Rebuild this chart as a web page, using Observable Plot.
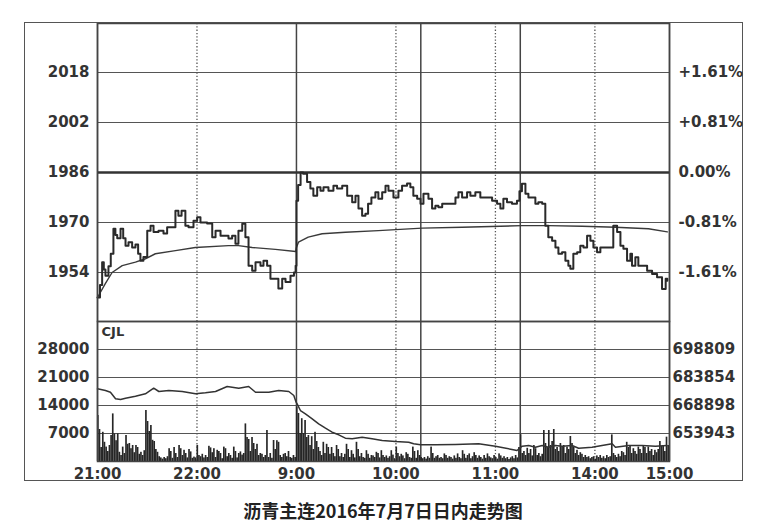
<!DOCTYPE html>
<html><head><meta charset="utf-8">
<script src="https://cdn.jsdelivr.net/npm/d3@7"></script>
<script src="https://cdn.jsdelivr.net/npm/@observablehq/plot@0.6"></script>
<style>
body{margin:0;background:#fff;width:758px;height:523px;overflow:hidden;position:relative;}
#frame{position:absolute;left:24px;top:22px;width:717px;height:457px;border:1.5px solid #555;}
#frame svg{display:block;}
#caption{position:absolute;left:0;top:499px;width:766px;text-align:center;font-family:"Noto Sans CJK SC",sans-serif;font-weight:bold;font-size:18px;color:#222;line-height:22px;}
</style></head>
<body>
<div id="frame"></div>
<div id="caption">沥青主连2016年7月7日日内走势图</div>
<script>
// ---- data (x = trading minutes since 21:00 open; sessions 21:00-23:00, 9:00-10:15, 10:30-11:30, 13:30-15:00) ----
const priceTicks = [1954, 1970, 1986, 2002, 2018];
const pctLabels = ["-1.61%", "-0.81%", "0.00%", "+0.81%", "+1.61%"];
const prevClose = 1986;
const volTicks = [7000, 14000, 21000, 28000];
const oiTicks = [653943, 668898, 683854, 698809];
const timeTicks = [0, 60, 120, 180, 240, 300, 345];
const timeLabels = ["21:00", "22:00", "9:00", "10:00", "11:00", "14:00", "15:00"];
const sessionBreaks = [0, 120, 195, 255, 345];
const hourMarks = [60, 180, 240, 300];

const price = [
[0,1946],[1.5,1950],[2.8,1957.3],[3.8,1955],[4.8,1953],[6.6,1956],[8,1960],[9.6,1968],[10.8,1966],[11.9,1965],[13.9,1968],[15.5,1965],[16.9,1962.6],[18.7,1963.7],[20.9,1962],[22.9,1963],[24.5,1960],[25.9,1957.8],[27.7,1959],[30,1967.4],[32,1969],[33.8,1967],[36.8,1967.4],[39.8,1966.5],[42,1968.5],[45,1968.5],[47,1973.8],[48.8,1972.2],[50.7,1973.8],[53,1969],[54.9,1968.5],[57.9,1970.6],[60.1,1971.7],[62.1,1970],[66.1,1969.7],[69.2,1965.3],[71.2,1967.4],[74.2,1965.8],[77.2,1965.8],[79,1964.9],[81.2,1965.8],[83.2,1963.2],[85,1967.4],[87.3,1969.6],[89.2,1965.3],[91.1,1956.2],[93.3,1954.6],[95.3,1957.3],[98.3,1956.2],[100.1,1957.8],[102.3,1956.2],[104.3,1952],[107.3,1952],[109.1,1948.9],[111.4,1952],[113.4,1951],[116.4,1953],[118.5,1954],[119.5,1956.2],
[120,1977],[121,1982],[122.5,1986],[124,1985.6],[126.4,1983],[128.4,1980.9],[130.2,1978.6],[132.5,1981.3],[134.5,1980.2],[136.3,1981.3],[139.3,1980.2],[142.3,1981.8],[144.5,1980.9],[147.6,1981.8],[150.6,1978.6],[153.6,1976.5],[155.6,1978.6],[157.4,1974.5],[159.6,1972.2],[161.6,1972.8],[163.2,1976],[165.2,1978],[167.6,1979.7],[169.4,1977.6],[171.7,1979.7],[173.7,1981.8],[175.5,1980.2],[178.5,1978],[181.5,1980.2],[183.7,1981.8],[186.7,1982.5],[188.7,1981.3],[190.5,1978.6],[192.8,1977.6],[194.8,1976],
[196.6,1979.2],[199.6,1977.6],[201.8,1974.5],[203.8,1975.4],[205.6,1974.9],[207.9,1976],[212.9,1976],[215.9,1978],[217.7,1979.7],[219.9,1978],[222.9,1979.7],[224.9,1978.6],[227.9,1979.7],[230.9,1978],[235,1978],[238,1977],[241,1976],[243,1974.5],[244.8,1977.6],[247,1976.5],[250,1976],[253,1977],[254.5,1980],
[256,1982.4],[258.1,1979.2],[259.9,1978],[262.1,1978],[264.1,1976],[265.9,1976.5],[268.2,1976],[270.1,1969],[271.9,1965.3],[274.2,1964.2],[276.2,1962],[278,1960],[280.2,1960.5],[282.2,1957.8],[284,1956.2],[285.2,1955.2],[287,1960],[289.3,1960.5],[291.2,1962.6],[293.1,1962],[295.3,1965.8],[297.3,1964.2],[299.1,1962],[301.3,1960.5],[303.3,1962],[310.4,1962],[311.1,1969],[313.4,1967],[315.4,1962.6],[317.2,1961.6],[319.4,1957.8],[321.4,1960],[322.4,1956.2],[324.4,1958.9],[326.2,1956.2],[329.2,1956.2],[331.5,1954.6],[334.5,1953.5],[337.5,1952.5],[340.5,1948.7],[342.7,1952],[343.7,1951.4]
];

const avgPrice = [
[0,1946],[4.8,1950.5],[8.8,1954],[14.9,1956.2],[22.9,1957.3],[28.9,1958.4],[34.9,1960],[47,1961],[59,1962],[79,1962.6],[85,1962.6],[93.3,1962],[107.3,1961.4],[119.5,1960.7],
[120,1962],[121.2,1963.7],[127.1,1965.3],[135.5,1966.4],[149.5,1966.9],[169.4,1967.4],[195.8,1968.2],[219.9,1968.5],[256,1969],[271.9,1969],[292.3,1968.8],[312.4,1968.5],[332.3,1968],[343.7,1967]
];

const volume = [
11500,8000,3500,7300,4800,3600,2500,4000,6500,11900,6900,5200,6900,2300,1500,3600,2000,6500,4300,4500,
3200,4000,2200,4000,3500,1800,2300,1500,2700,12750,10000,7500,9000,5300,5000,3000,2300,1200,900,600,
1000,700,1200,3200,2500,800,3500,2000,1000,4000,3200,1500,2800,2000,900,3000,2400,800,1100,900,
4000,1500,1200,1800,900,1500,1000,3800,3400,2200,3200,1000,2800,2500,2000,700,3600,3200,1200,2000,
1500,800,3600,2500,900,2000,2400,1600,2000,9400,6000,5500,2500,6000,4500,3000,4300,1500,2000,1800,
1000,1500,7750,1000,2000,800,5250,3000,5200,4800,1500,1000,1800,2000,1200,2500,1000,800,1500,1000,
13600,12000,7000,10700,7000,10250,6000,6500,4000,6200,3000,7300,5000,3500,2500,1500,4800,2000,4300,3500,
1800,3500,2000,1200,4000,3000,1200,2000,1000,1800,4300,3000,1000,2700,1800,900,4800,3000,1200,2000,
1000,800,2700,1800,800,1500,1400,1000,2300,2000,900,2700,1500,1000,1400,800,1200,2700,1600,700,
3600,2000,1200,1800,1400,700,2200,1800,1000,800,3600,2500,800,2700,1500,1000,700,1000,600,1200,
800,3600,2000,800,1200,1500,800,1000,700,1900,1500,800,1200,1000,600,1400,800,1900,1000,700,
2700,1800,800,1500,1900,700,1200,2200,1500,800,1400,1000,600,1500,800,1900,1200,900,700,1500,
1000,600,1900,1400,800,1200,700,1000,500,900,1200,700,1500,900,3500,6700,2000,2500,1500,3300,
2000,3000,1400,4000,3200,1500,2000,1200,1800,7750,4500,3500,7750,4000,5000,8000,3000,3500,2500,4500,
3500,4000,2000,3600,3000,6250,4500,3500,2000,2800,1500,2200,1800,1000,1500,1000,1200,700,1000,1200,
600,1400,1000,1500,800,1200,700,1500,1000,1200,6650,2000,1500,1000,1800,1200,2500,2200,1500,4800,
3500,4000,2000,3200,2500,1800,3600,3000,2000,4000,3500,2000,3600,2500,3000,1500,2800,2200,3000,5000,
3800,4000,2500,6080,4000
];

const openInterest = [
[0,677800],[4.8,676909],[7.8,676001],[10.9,672476],[13.9,672102],[16.9,672797],[22.9,673865],[28.9,675147],[33.9,678138],[37,676375],[43,676909],[51.1,676375],[59.1,675147],[65.1,675681],[71.2,676375],[78.2,679046],[85.2,678138],[91.2,679046],[95.3,676001],[103.3,676001],[109.3,676909],[115.4,676375],[118.4,674239],[119.8,670660],
[120.4,669806],[122.4,666227],[125.4,664465],[129.5,661794],[133.4,659124],[137.5,656773],[141.5,654637],[145.5,653248],[149.5,651433],[153.6,651112],[159.6,651967],[165.6,651112],[171.7,650204],[179.7,649670],[187.7,649296],[190.7,648442],[194.8,647907],[203.8,647907],[215.9,648068],[229.9,648442],[240,647160],[250,645397],[253,644863],
[256.1,647160],[260.1,647534],[264.1,646626],[268.2,647534],[272.1,646626],[276.2,647534],[280.2,647160],[286.2,647534],[290.2,646092],[298.3,646626],[304.3,647534],[310.4,648442],[312.4,646626],[320.4,647534],[328.5,647534],[336.5,647160],[343.5,647534]
];

// right-axis (open interest) mapped onto the volume scale using the tick pairs
const oiPerVol = (oiTicks[1] - oiTicks[0]) / (volTicks[1] - volTicks[0]);
const oiBase = oiTicks[0] - volTicks[0] * oiPerVol;

const FONT = "DejaVu Sans";
const INK = "#333";
const common = {
  width: 717, marginLeft: 72, marginRight: 73,
  x: {domain: [0, 345], axis: null},
  style: {fontFamily: FONT, fontSize: "15px", fontWeight: "bold", color: INK, background: "transparent", overflow: "visible"}
};

const pricePlot = Plot.plot({
  ...common,
  height: 298, marginTop: 0, marginBottom: 0,
  y: {domain: [1938.32, 2033.68], axis: null},
  marks: [
    Plot.ruleY(priceTicks.filter(d => d !== prevClose), {stroke: "#555", strokeWidth: 1}),
    Plot.ruleX(hourMarks, {stroke: "#555", strokeWidth: 1.3, strokeDasharray: "1.3,2"}),
    Plot.ruleX(sessionBreaks, {stroke: "#444", strokeWidth: 1.5}),
    Plot.ruleY([prevClose], {stroke: "#333", strokeWidth: 2.6}),
    Plot.line(avgPrice, {x: d => d[0], y: d => d[1], stroke: "#3a3a3a", strokeWidth: 1.4}),
    Plot.line(price, {x: d => d[0], y: d => d[1], stroke: "#2a2a2a", strokeWidth: 2, curve: "step-after"}),
    Plot.axisY(priceTicks, {anchor: "left", tickSize: 0, tickPadding: 8, tickFormat: d => String(d), fontSize: 15, fontWeight: "bold", fill: INK}),
    Plot.axisY(priceTicks, {anchor: "right", tickSize: 0, tickPadding: 9, tickFormat: d => pctLabels[priceTicks.indexOf(d)], fontSize: 15, fontWeight: "bold", fill: INK}),
    Plot.frame({stroke: "#444", strokeWidth: 1.5})
  ]
});

const volPlot = Plot.plot({
  ...common,
  height: 159, marginTop: 0, marginBottom: 19,
  y: {domain: [0, 35000], axis: null},
  marks: [
    Plot.ruleY(volTicks, {stroke: "#555", strokeWidth: 1}),
    Plot.ruleX(hourMarks, {stroke: "#555", strokeWidth: 1.3, strokeDasharray: "1.3,2"}),
    Plot.ruleX(sessionBreaks, {stroke: "#444", strokeWidth: 1.5}),
    Plot.rectY(volume, {x1: (d, i) => i, x2: (d, i) => i + 1, y: d => d, fill: "#262626", insetRight: 0}),
    Plot.line(openInterest, {x: d => d[0], y: d => (d[1] - oiBase) / oiPerVol, stroke: "#333", strokeWidth: 1.5}),
    Plot.text(["CJL"], {text: d => d, frameAnchor: "top-left", dx: 4, dy: 5, textAnchor: "start", lineAnchor: "top", fontSize: 13, fontWeight: "bold", fill: INK}),
    Plot.axisY(volTicks, {anchor: "left", tickSize: 0, tickPadding: 8, tickFormat: d => String(d), fontSize: 15, fontWeight: "bold", fill: INK}),
    Plot.axisY(volTicks, {anchor: "right", tickSize: 0, tickPadding: 3, tickFormat: d => String(oiTicks[volTicks.indexOf(d)]), fontSize: 15, fontWeight: "bold", fill: INK}),
    Plot.axisX(timeTicks, {anchor: "bottom", tickSize: 0, tickPadding: 7, tickFormat: d => timeLabels[timeTicks.indexOf(d)], fontSize: 15, fontWeight: "bold", fill: INK}),
    Plot.frame({stroke: "#444", strokeWidth: 1.5})
  ]
});

const frame = document.getElementById("frame");
frame.appendChild(pricePlot);
frame.appendChild(volPlot);
</script>
</body></html>
